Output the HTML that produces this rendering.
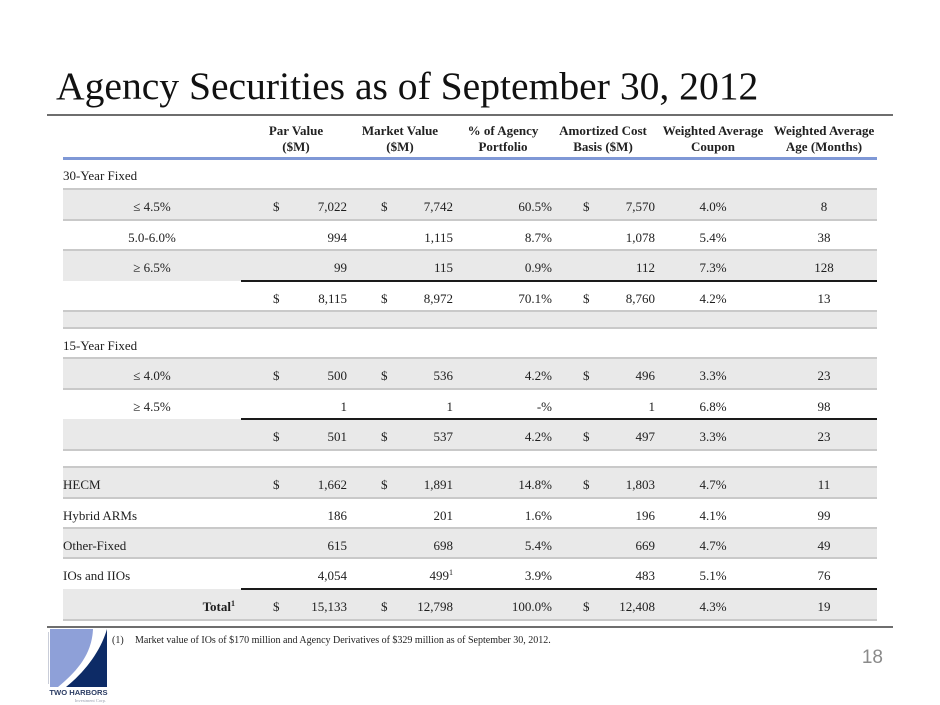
<!DOCTYPE html>
<html>
<head>
<meta charset="utf-8">
<style>
html,body{margin:0;padding:0;background:#fff;}
body{width:940px;height:705px;position:relative;overflow:hidden;font-family:"Liberation Serif",serif;color:#1e1e1e;}
.abs{position:absolute;}
.title{position:absolute;left:56px;top:66px;font-size:39.6px;line-height:40px;white-space:nowrap;color:#111;font-family:"Liberation Serif",serif;}
.rule{position:absolute;left:47px;width:846px;height:2px;background:#6e6e6e;}
.hdr{position:absolute;top:123px;font-weight:bold;font-size:13px;line-height:16px;text-align:center;white-space:nowrap;color:#222;}
.row{position:absolute;left:63px;width:814px;}
.g{background:#e9e9e9;}
.sep{position:absolute;left:63px;width:814px;height:2px;background:#c9c9c9;}
.blk{position:absolute;left:241px;width:636px;height:2px;background:#1a1a1a;}
.c{position:absolute;top:0;font-size:13px;white-space:nowrap;}
.lab{left:0;width:178px;}
.ps{left:210px;}
.pn{left:217px;width:67px;text-align:right;}
.ms{left:318px;}
.mn{left:327px;width:63px;text-align:right;}
.pc{left:407px;width:82px;text-align:right;}
.as{left:520px;}
.an{left:527px;width:65px;text-align:right;}
.cp{left:607px;width:86px;text-align:center;}
.ag{left:709px;width:104px;text-align:center;}
sup{font-size:8px;line-height:0;vertical-align:5px;}
</style>
</head>
<body>
<div class="title">Agency Securities as of September 30, 2012</div>
<div class="rule" style="top:114px;"></div>

<div class="hdr" style="left:246px;width:100px;">Par Value<br>($M)</div>
<div class="hdr" style="left:350px;width:100px;">Market Value<br>($M)</div>
<div class="hdr" style="left:453px;width:100px;">% of Agency<br>Portfolio</div>
<div class="hdr" style="left:553px;width:100px;">Amortized Cost<br>Basis ($M)</div>
<div class="hdr" style="left:658px;width:110px;">Weighted Average<br>Coupon</div>
<div class="hdr" style="left:769px;width:110px;">Weighted Average<br>Age (Months)</div>
<div class="abs" style="left:63px;top:157px;width:814px;height:3px;background:#7f98d6;"></div>

<!-- rows -->
<div class="row" style="top:160px;height:29px;line-height:32px;"><div class="c" style="left:0;">30-Year Fixed</div></div>

<div class="row g" style="top:189px;height:31px;line-height:36px;">
<div class="c lab" style="text-align:center;">≤ 4.5%</div>
<div class="c ps">$</div><div class="c pn">7,022</div>
<div class="c ms">$</div><div class="c mn">7,742</div>
<div class="c pc">60.5%</div>
<div class="c as">$</div><div class="c an">7,570</div>
<div class="c cp">4.0%</div><div class="c ag">8</div>
</div>

<div class="row" style="top:220px;height:30px;line-height:35px;">
<div class="c lab" style="text-align:center;">5.0-6.0%</div>
<div class="c pn">994</div>
<div class="c mn">1,115</div>
<div class="c pc">8.7%</div>
<div class="c an">1,078</div>
<div class="c cp">5.4%</div><div class="c ag">38</div>
</div>

<div class="row g" style="top:250px;height:31px;line-height:35px;">
<div class="c lab" style="text-align:center;">≥ 6.5%</div>
<div class="c pn">99</div>
<div class="c mn">115</div>
<div class="c pc">0.9%</div>
<div class="c an">112</div>
<div class="c cp">7.3%</div><div class="c ag">128</div>
</div>

<div class="row" style="top:281px;height:30px;line-height:35px;">
<div class="c ps">$</div><div class="c pn">8,115</div>
<div class="c ms">$</div><div class="c mn">8,972</div>
<div class="c pc">70.1%</div>
<div class="c as">$</div><div class="c an">8,760</div>
<div class="c cp">4.2%</div><div class="c ag">13</div>
</div>

<div class="row g" style="top:311px;height:17px;"></div>

<div class="row" style="top:328px;height:30px;line-height:35px;"><div class="c" style="left:0;">15-Year Fixed</div></div>

<div class="row g" style="top:358px;height:31px;line-height:35px;">
<div class="c lab" style="text-align:center;">≤ 4.0%</div>
<div class="c ps">$</div><div class="c pn">500</div>
<div class="c ms">$</div><div class="c mn">536</div>
<div class="c pc">4.2%</div>
<div class="c as">$</div><div class="c an">496</div>
<div class="c cp">3.3%</div><div class="c ag">23</div>
</div>

<div class="row" style="top:389px;height:30px;line-height:35px;">
<div class="c lab" style="text-align:center;">≥ 4.5%</div>
<div class="c pn">1</div>
<div class="c mn">1</div>
<div class="c pc">-%</div>
<div class="c an">1</div>
<div class="c cp">6.8%</div><div class="c ag">98</div>
</div>

<div class="row g" style="top:419px;height:31px;line-height:35px;">
<div class="c ps">$</div><div class="c pn">501</div>
<div class="c ms">$</div><div class="c mn">537</div>
<div class="c pc">4.2%</div>
<div class="c as">$</div><div class="c an">497</div>
<div class="c cp">3.3%</div><div class="c ag">23</div>
</div>

<div class="row" style="top:450px;height:17px;"></div>

<div class="row g" style="top:467px;height:31px;line-height:36px;">
<div class="c" style="left:0;">HECM</div>
<div class="c ps">$</div><div class="c pn">1,662</div>
<div class="c ms">$</div><div class="c mn">1,891</div>
<div class="c pc">14.8%</div>
<div class="c as">$</div><div class="c an">1,803</div>
<div class="c cp">4.7%</div><div class="c ag">11</div>
</div>

<div class="row" style="top:498px;height:30px;line-height:35px;">
<div class="c" style="left:0;">Hybrid ARMs</div>
<div class="c pn">186</div>
<div class="c mn">201</div>
<div class="c pc">1.6%</div>
<div class="c an">196</div>
<div class="c cp">4.1%</div><div class="c ag">99</div>
</div>

<div class="row g" style="top:528px;height:30px;line-height:35px;">
<div class="c" style="left:0;">Other-Fixed</div>
<div class="c pn">615</div>
<div class="c mn">698</div>
<div class="c pc">5.4%</div>
<div class="c an">669</div>
<div class="c cp">4.7%</div><div class="c ag">49</div>
</div>

<div class="row" style="top:558px;height:31px;line-height:35px;">
<div class="c" style="left:0;">IOs and IIOs</div>
<div class="c pn">4,054</div>
<div class="c mn">499<sup>1</sup></div>
<div class="c pc">3.9%</div>
<div class="c an">483</div>
<div class="c cp">5.1%</div><div class="c ag">76</div>
</div>

<div class="row g" style="top:589px;height:31px;line-height:36px;">
<div class="c lab" style="text-align:right;width:172px;font-weight:bold;">Total<sup>1</sup></div>
<div class="c ps">$</div><div class="c pn">15,133</div>
<div class="c ms">$</div><div class="c mn">12,798</div>
<div class="c pc">100.0%</div>
<div class="c as">$</div><div class="c an">12,408</div>
<div class="c cp">4.3%</div><div class="c ag">19</div>
</div>

<!-- separators -->
<div class="sep" style="top:188px;"></div>
<div class="sep" style="top:219px;"></div>
<div class="sep" style="top:249px;"></div>
<div class="blk" style="top:280px;"></div>
<div class="sep" style="top:310px;"></div>
<div class="sep" style="top:327px;"></div>
<div class="sep" style="top:357px;"></div>
<div class="sep" style="top:388px;"></div>
<div class="blk" style="top:418px;"></div>
<div class="sep" style="top:449px;"></div>
<div class="sep" style="top:466px;"></div>
<div class="sep" style="top:497px;"></div>
<div class="sep" style="top:527px;"></div>
<div class="sep" style="top:557px;"></div>
<div class="blk" style="top:588px;"></div>
<div class="sep" style="top:619px;"></div>

<div class="rule" style="top:626px;"></div>

<!-- footnote -->
<div class="abs" style="left:112px;top:634px;font-size:10px;line-height:14px;white-space:nowrap;color:#222;">(1)</div>
<div class="abs" style="left:135px;top:634px;font-size:10px;line-height:14px;white-space:nowrap;color:#222;">Market value of IOs of $170 million and Agency Derivatives of $329 million as of September 30, 2012.</div>

<!-- page number -->
<div class="abs" style="left:840px;top:647px;width:43px;text-align:right;font-family:'Liberation Sans',sans-serif;font-size:19px;line-height:22px;color:#8a8a8a;">18</div>

<!-- logo -->
<svg class="abs" style="left:0;top:0;" width="940" height="705" viewBox="0 0 940 705">
<path d="M50,629 L93,629 C92,655 76,672 58,687 L50,687 Z" fill="#8ea0d8"/>
<path d="M107,629 L107,687 L66,687 C86,671 101,650 107,629 Z" fill="#0d2b66"/>
<line x1="48.5" y1="632" x2="48.5" y2="684" stroke="#c9cdd8" stroke-width="1"/>
<text x="78.5" y="695" text-anchor="middle" font-family="Liberation Sans, sans-serif" font-weight="bold" font-size="7.6" fill="#2b3c63">TWO HARBORS</text>
<text x="106" y="702" text-anchor="end" font-family="Liberation Serif, serif" font-size="4.5" fill="#9aa0b0">Investment Corp.</text>
</svg>
</body>
</html>
